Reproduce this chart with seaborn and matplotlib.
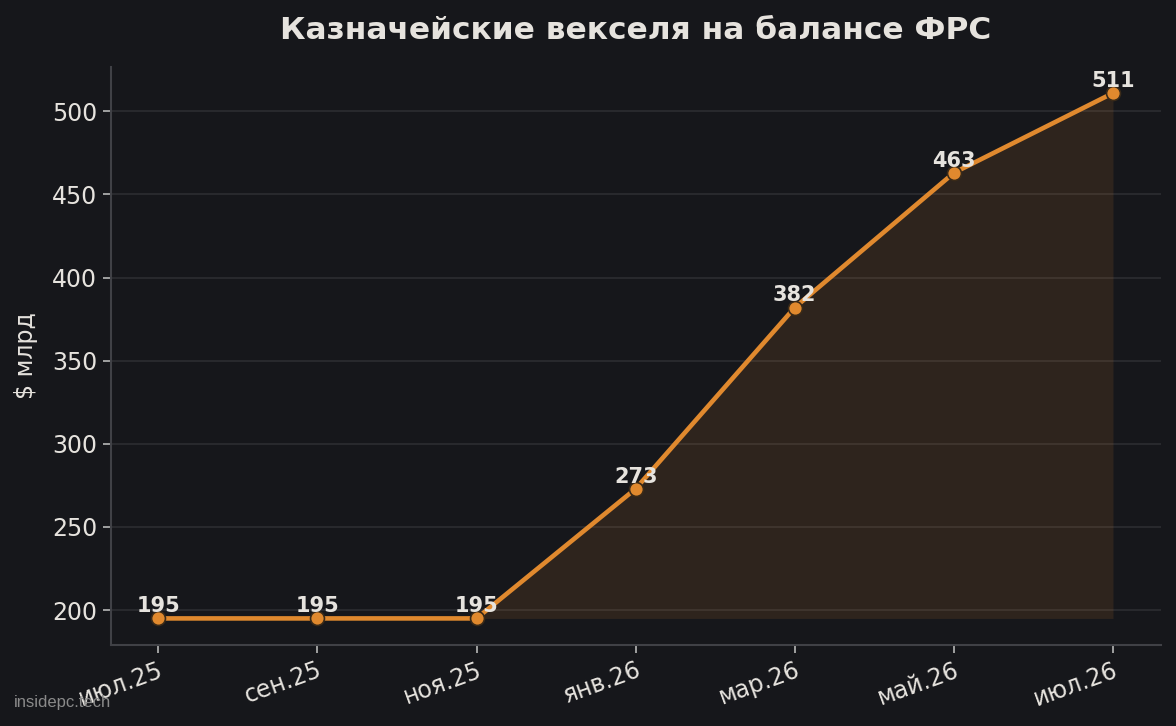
import matplotlib
matplotlib.use("Agg")
import matplotlib.pyplot as plt
import seaborn as sns

# data
months = ["июл.25", "сен.25", "ноя.25", "янв.26", "мар.26", "май.26", "июл.26"]
bills = [195, 195, 195, 273, 382, 463, 511]

bg = "#16171b"
orange = "#e0892e"
text_col = "#e6e3de"

sns.set_theme(style="dark")
plt.rcParams["font.family"] = ["DejaVu Sans"]

fig, ax = plt.subplots(figsize=(11.76, 7.26), dpi=100)
fig.patch.set_facecolor(bg)
ax.set_facecolor(bg)

xs = list(range(len(months)))
ax.fill_between(xs, min(bills), bills, color=orange, alpha=0.12, linewidth=0)
sns.lineplot(x=xs, y=bills, ax=ax, color=orange, linewidth=3.3,
             marker="o", markersize=10, markeredgecolor="#3a2a18",
             markeredgewidth=1.2)

for x, v in zip(xs, bills):
    ax.annotate(str(v), (x, v), xytext=(0, 1.5), textcoords="offset points",
                ha="center", va="bottom", fontsize=15, fontweight="bold",
                color=text_col)

ax.set_xticks(xs)
ax.set_xticklabels(months, rotation=20, ha="right", rotation_mode="anchor")
ax.tick_params(axis="both", colors="#b8b8b8", labelcolor=text_col,
               labelsize=17, length=6, width=1.2, bottom=True, left=True)
ax.set_ylabel("\\$ млрд", color=text_col, fontsize=17, labelpad=10)
ax.set_xlabel("")
ax.set_title("Казначейские векселя на балансе ФРС", fontsize=22.5,
             fontweight="bold", color=text_col, pad=20)

ax.grid(axis="y", color="#2c2d31", linewidth=1.2)
ax.grid(axis="x", visible=False)
for s in ["top", "right"]:
    ax.spines[s].set_visible(False)
for s in ["left", "bottom"]:
    ax.spines[s].set_color("#404146")
    ax.spines[s].set_linewidth(1.5)

fig.text(0.012, 0.026, "insidepc.tech", fontsize=12, color="#8a8a8a",
         family=["Liberation Sans", "DejaVu Sans"])

fig.subplots_adjust(left=0.094, right=0.987, top=0.908, bottom=0.112)
fig.savefig("out.png", facecolor=bg)
